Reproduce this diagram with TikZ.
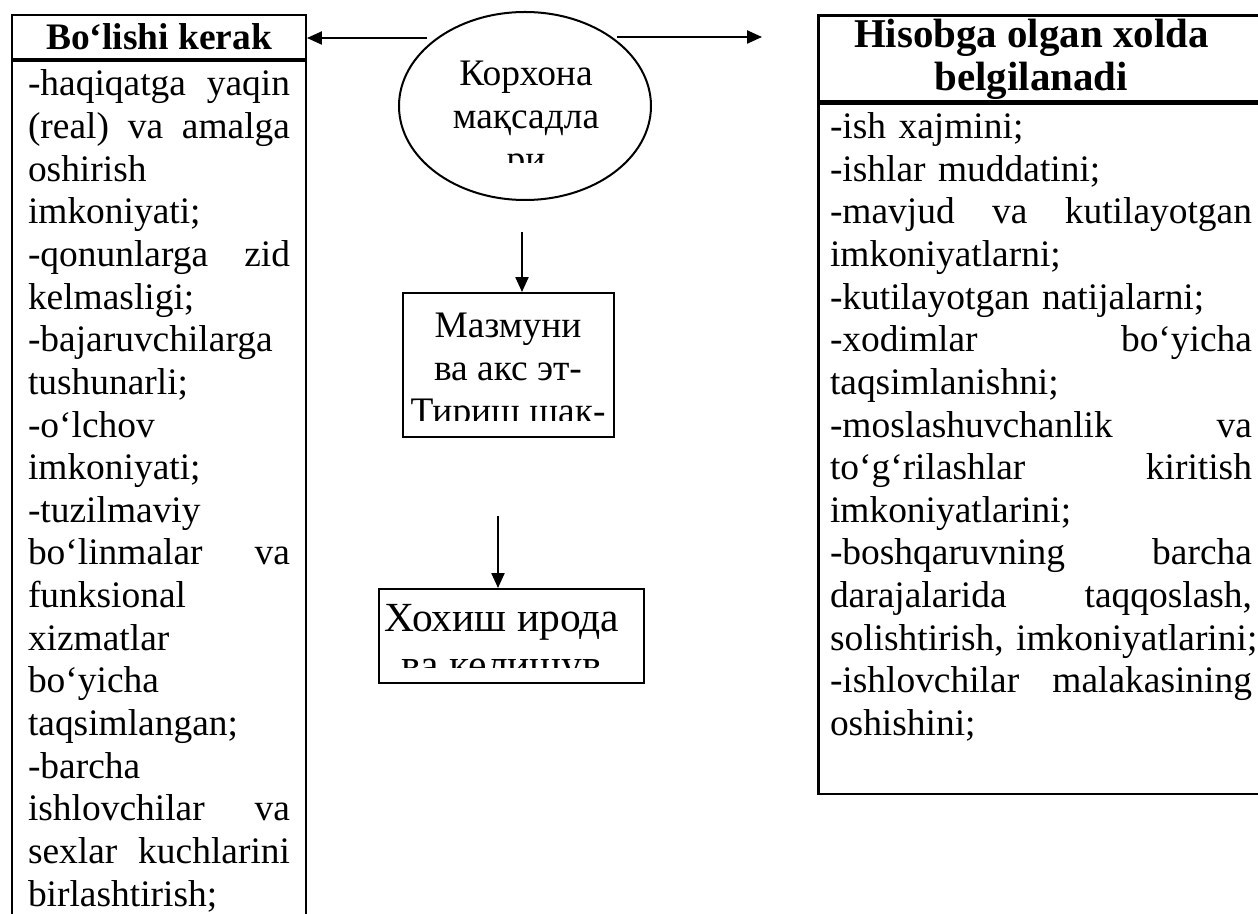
\documentclass[tikz,border=0pt]{standalone}
\usepackage{fontspec}
\setmainfont{Liberation Serif}
\usetikzlibrary{arrows.meta,shapes.geometric,positioning}

\newcommand\px{0.374pt}
\newcommand\txt{\fontsize{14}{15.95}\selectfont}
\newcommand\jl[1]{\makebox[\linewidth][s]{\spaceskip=.25em plus 1fil\relax #1}}

\begin{document}
\begin{tikzpicture}[x=\px, y=-\px, >={Triangle[length=5.6pt,width=4.9pt]}, line width=0.75pt, font=\txt]
	\tikzstyle{cell}=[draw, inner sep=0pt, anchor=north west]
	\tikzstyle{head}=[cell, align=center, font=\txt\bfseries]
	\tikzstyle{lines}=[inner sep=0pt, align=left]
	\tikzstyle{inbox}=[inner sep=0pt, align=center, anchor=north]
	\useasboundingbox (0,0) rectangle (1258,914);
	\clip (0,0) rectangle (1258,914);

	% left column
	\node[head, minimum width=294*\px, minimum height=44*\px] (lhead) at (11,14) {Bo‘lishi kerak};
	\node[cell, minimum width=294*\px, minimum height=900*\px] (lbody) [below=0pt of lhead] {};
	\node[lines, text width=262*\px] (ltext) [below right=5*\px and 16*\px of lbody.north west] {\strut\jl{-haqiqatga yaqin}\\
		\jl{(real) va amalga}\\ oshirish\\ imkoniyati;\\ \jl{-qonunlarga zid}\\ kelmasligi;\\
		-bajaruvchilarga\\ tushunarli;\\ -o‘lchov\\ imkoniyati;\\ -tuzilmaviy\\
		\jl{bo‘linmalar va}\\ funksional\\ xizmatlar\\ bo‘yicha\\ taqsimlangan;\\ -barcha\\
		\jl{ishlovchilar va}\\ \jl{sexlar kuchlarini}\\ birlashtirish;};

	% right column
	\node[cell, minimum width=450*\px, minimum height=86*\px, line width=1pt] (rhead) at (817,14) {};
	\node[inbox, anchor=center, font=\fontsize{15.3}{16.05}\selectfont\bfseries] (rtitle) at ([xshift=-12*\px, yshift=-1*\px]rhead.center) {Hisobga olgan xolda\\ belgilanadi};
	\node[cell, minimum width=450*\px, minimum height=690*\px, line width=1pt] (rbody) [below=0pt of rhead] {};
	\node[lines, text width=422*\px] (rtext) [below right=5*\px and 12*\px of rbody.north west] {\strut -ish xajmini;\\
		-ishlar muddatini;\\ \jl{-mavjud va kutilayotgan}\\ imkoniyatlarni;\\ -kutilayotgan natijalarni;\\
		\jl{-xodimlar bo‘yicha}\\ taqsimlanishni;\\ \jl{-moslashuvchanlik va}\\ \jl{to‘g‘rilashlar kiritish}\\
		imkoniyatlarini;\\ \jl{-boshqaruvning barcha}\\ \jl{darajalarida taqqoslash,}\\
		\mbox{solishtirish, imkoniyatlarini;}\\ \jl{-ishlovchilar malakasining}\\ oshishini;};

	% middle
	\node[draw, ellipse, inner sep=0pt, minimum width=252*\px, minimum height=188*\px] (goal) at (525,106) {};
	\node[cell, minimum width=211*\px, minimum height=144*\px] (form) at (402,292) {};
	\node[cell, minimum width=265*\px, minimum height=94*\px] (will) at (378,588) {};

	\begin{scope}
		\clip (400,0) rectangle (652,163);
		\node[inbox] (goaltext) at (526,55) {\strut Корхона\\ мақсадла\\ ри};
	\end{scope}
	\begin{scope}
		\clip (402,292) rectangle (613,421);
		\node[inbox] (formtext) at (508,307) {\strut Мазмуни\\ ва акс эт-\\ Тириш шак-};
	\end{scope}
	\begin{scope}
		\clip (378,588) rectangle (643,668);
		\node[inbox, font=\fontsize{15.5}{17.5}\selectfont] (willtext) at (502,598) {\strut Хохиш ирода\\ ва келишув};
	\end{scope}

	\coordinate (lstart) at (427,38);
	\coordinate (rstart) at (617,37);
	\coordinate (rend) at (762,37);
	\coordinate (a1) at (522,232);
	\coordinate (a2) at (498,516);
	\draw[->] (lstart) -- (lstart -| lhead.east);
	\draw[->] (rstart) -- (rend);
	\draw[->] (a1) -- (a1 |- form.north);
	\draw[->] (a2) -- (a2 |- will.north);
\end{tikzpicture}
\end{document}
